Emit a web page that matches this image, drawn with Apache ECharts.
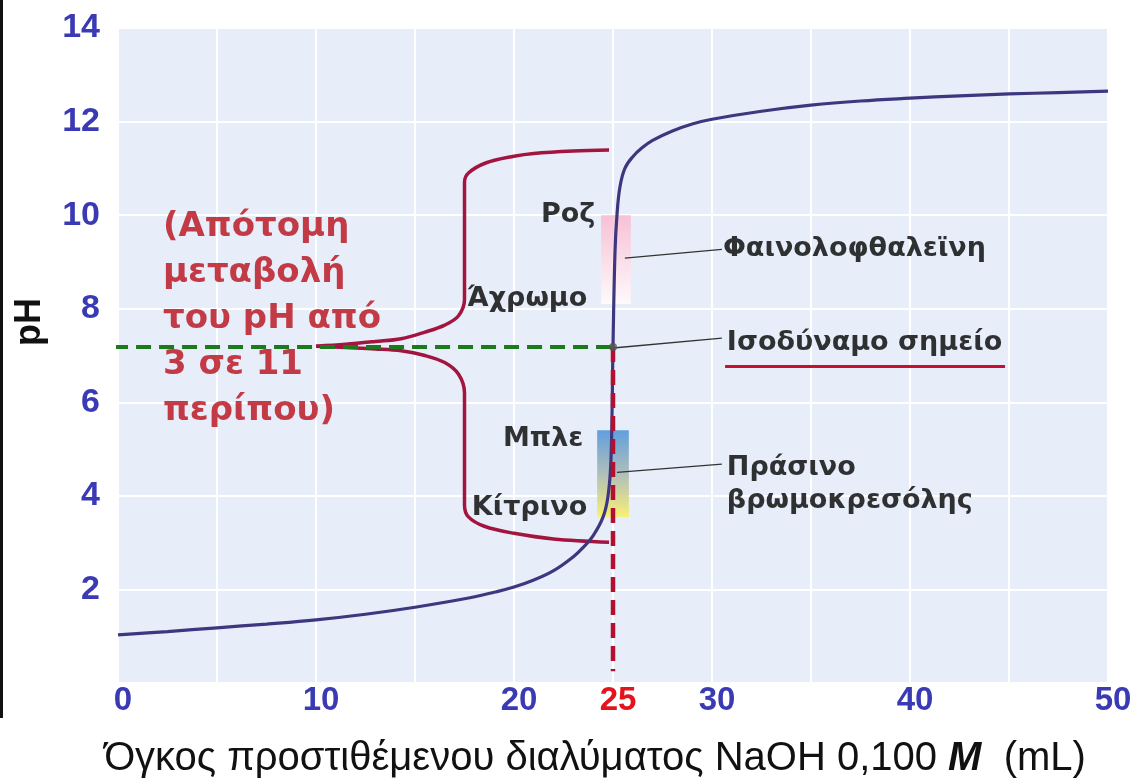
<!DOCTYPE html>
<html>
<head>
<meta charset="utf-8">
<script src="https://cdn.jsdelivr.net/npm/echarts@6/dist/echarts.min.js"></script>
<style>
  html, body { margin: 0; padding: 0; background: #ffffff; overflow: hidden; }
  #chart { width: 1132px; height: 784px; }
</style>
</head>
<body>
<div id="chart"></div>
<script>
// Titration of a strong acid with 0.100 M NaOH: volume (mL) vs pH
const volume = [0, 2.5, 5, 7.5, 10, 12.5, 15, 17.5, 19, 20, 21, 22, 23, 23.5, 24, 24.5, 24.75, 24.9,
                25, 25.1, 25.2, 25.35, 25.6, 26, 26.5, 27, 28, 29, 30, 32.5, 35, 37.5, 40, 42.5, 45, 47.5, 50];
const pH =     [1.03, 1.1, 1.18, 1.26, 1.35, 1.47, 1.62, 1.8, 1.94, 2.05, 2.2, 2.4, 2.7, 2.9, 3.15, 3.55, 4.0, 4.8,
                7.2, 9.2, 10.0, 10.6, 11.0, 11.25, 11.45, 11.6, 11.8, 11.95, 12.05, 12.22, 12.35, 12.44, 12.5, 12.55, 12.59, 12.62, 12.65];

// Brace marking the steep jump (upper and lower arms)
const braceUpperX = [10, 11.5, 13, 14.3, 15.5, 16.5, 17.2, 17.5, 17.5, 17.7, 18.6, 20, 21, 23, 24.8];
const braceUpperY = [7.2, 7.24, 7.3, 7.36, 7.5, 7.65, 7.85, 8.2, 10.7, 10.9, 11.12, 11.26, 11.32, 11.37, 11.39];
const braceLowerX = [10, 11.5, 13, 14.3, 15.5, 16.5, 17.2, 17.5, 17.5, 17.7, 18.5, 20, 22, 24.8];
const braceLowerY = [7.2, 7.17, 7.14, 7.1, 7.0, 6.85, 6.6, 6.2, 3.8, 3.55, 3.35, 3.2, 3.08, 3.01];

// Equivalence point
const equivVolume = 25;
const equivPH = 7.18;

// Indicator colour-change ranges: [volume from, volume to], [pH low, pH high]
const phenolVol = [24.4, 25.9];
const phenolPH = [8.1, 10.0];
const bromoVol = [24.2, 25.8];
const bromoPH = [3.55, 5.4];

// Tick labels
const xTickLabels = [0, 10, 20, 25, 30, 40, 50];
const yTickLabels = [2, 4, 6, 8, 10, 12, 14];

const pts = (xs, ys) => xs.map((x, i) => [x, ys[i]]);

const BLUE = '#3a3ab5';
const CURVE = '#3e377f';
const BRACE = '#a3153f';
const ANNO_FONT = 'DejaVu Sans';

function annotation(x, y, text, side, style) {
  return {
    value: [x, y],
    label: Object.assign({
      show: true,
      position: side,
      distance: 0,
      formatter: text,
      color: '#000000',
      fontFamily: ANNO_FONT,
      fontWeight: 'bold',
      fontSize: 27
    }, style || {})
  };
}

const chart = echarts.init(document.getElementById('chart'), null, { renderer: 'canvas' });

const option = {
  backgroundColor: '#ffffff',
  animation: false,
  grid: {
    left: 118, right: 24, top: 28, bottom: 101,
    outerBoundsMode: 'none',
    show: true, backgroundColor: '#e7eef9', borderWidth: 0
  },
  xAxis: {
    type: 'value', min: 0, max: 50, interval: 5,
    axisLine: { show: false }, axisTick: { show: false },
    splitLine: { show: true, lineStyle: { color: '#ffffff', width: 2 } },
    axisLabel: {
      margin: 1,
      formatter: v => v === 25 ? '{r|' + v + '}' : (xTickLabels.indexOf(v) >= 0 ? '{b|' + v + '}' : ''),
      rich: {
        b: { color: BLUE, fontFamily: 'Liberation Sans', fontWeight: 'bold', fontSize: 33, padding: [0, 0, 0, 10] },
        r: { color: '#e4141e', fontFamily: 'Liberation Sans', fontWeight: 'bold', fontSize: 33, padding: [0, 0, 0, 10] }
      }
    },
    name: 'Όγκος προστιθέμενου διαλύματος NaOH 0,100 {i|M}  (mL)',
    nameLocation: 'middle',
    nameGap: 56,
    nameTextStyle: {
      color: '#111111', fontFamily: 'Liberation Sans', fontSize: 40, padding: [0, 36, 0, 0],
      rich: { i: { fontStyle: 'italic', fontWeight: 'bold', fontFamily: 'Liberation Sans', fontSize: 40, color: '#111111' } }
    }
  },
  yAxis: {
    type: 'value', min: 0, max: 14, interval: 2,
    axisLine: { show: false }, axisTick: { show: false },
    splitLine: { show: true, lineStyle: { color: '#ffffff', width: 2 } },
    axisLabel: {
      margin: 18,
      color: BLUE, fontFamily: 'Liberation Sans', fontWeight: 'bold', fontSize: 34,
      formatter: v => yTickLabels.indexOf(v) >= 0 ? String(v) : ''
    }
  },
  graphic: [
    { type: 'rect', left: 0, top: 0, shape: { width: 3, height: 718 }, style: { fill: '#111111' } },
    { type: 'text', x: 30, y: 322, rotation: Math.PI / 2,
      style: { text: 'pH', align: 'center', verticalAlign: 'middle',
               font: 'bold 36px "Liberation Sans"', fill: '#111111' } }
  ],
  series: [
    {
      // indicator colour bands
      type: 'line', data: [], silent: true,
      markArea: {
        silent: true,
        data: [
          [{ coord: [phenolVol[0], phenolPH[1]],
             itemStyle: { color: { type: 'linear', x: 0, y: 0, x2: 0, y2: 1,
               colorStops: [{ offset: 0, color: 'rgba(248,190,212,0.95)' },
                            { offset: 1, color: 'rgba(255,250,252,0.95)' }] } } },
           { coord: [phenolVol[1], phenolPH[0]] }],
          [{ coord: [bromoVol[0], bromoPH[1]],
             itemStyle: { color: { type: 'linear', x: 0, y: 0, x2: 0, y2: 1,
               colorStops: [{ offset: 0, color: 'rgba(88,155,220,0.95)' },
                            { offset: 0.5, color: 'rgba(170,185,180,0.9)' },
                            { offset: 1, color: 'rgba(250,240,110,0.95)' }] } } },
           { coord: [bromoVol[1], bromoPH[0]] }]
        ]
      }
    },
    {
      // brace arms
      type: 'line', data: pts(braceUpperX, braceUpperY), showSymbol: false, smooth: 0.35,
      lineStyle: { color: BRACE, width: 3.5 }, silent: true
    },
    {
      type: 'line', data: pts(braceLowerX, braceLowerY), showSymbol: false, smooth: 0.35,
      lineStyle: { color: BRACE, width: 3.5 }, silent: true
    },
    {
      // titration curve
      type: 'line', data: pts(volume, pH), showSymbol: false, smooth: 0.4,
      lineStyle: { color: CURVE, width: 3.2 }, silent: true, z: 3
    },
    {
      // horizontal guide at the equivalence pH
      type: 'line', data: [[-0.25, equivPH], [equivVolume, equivPH]], showSymbol: false, clip: false,
      lineStyle: { color: '#1b7a1b', width: 4, type: [15, 8] }, silent: true, z: 4
    },
    {
      // vertical guide at the equivalence volume
      type: 'line', data: [[equivVolume, equivPH], [equivVolume, 0.25]], showSymbol: false,
      lineStyle: { color: '#b3102f', width: 4.5, type: [15, 8] }, silent: true, z: 4
    },
    {
      // leader lines to the annotations
      type: 'lines', coordinateSystem: 'cartesian2d', silent: true, z: 4,
      lineStyle: { color: '#333333', width: 1.3, opacity: 1 },
      data: [
        { coords: [[25.6, 9.08], [30.5, 9.27]] },
        { coords: [[25.0, 7.16], [30.5, 7.37]] },
        { coords: [[25.2, 4.5], [30.5, 4.68]] }
      ]
    },
    {
      // underline of the equivalence label
      type: 'lines', coordinateSystem: 'cartesian2d', silent: true, z: 4,
      lineStyle: { color: '#c8102e', width: 3, opacity: 1 },
      data: [{ coords: [[30.66, 6.77], [44.8, 6.77]] }]
    },
    {
      // equivalence point marker
      type: 'scatter', data: [[equivVolume, equivPH]], symbolSize: 8, silent: true, z: 5,
      itemStyle: { color: '#555555' }
    },
    {
      // text annotations
      type: 'scatter', symbolSize: 0, silent: true, z: 6,
      data: [
        annotation(24.1, 10.0, 'Ροζ', 'left'),
        annotation(23.7, 8.2, 'Άχρωμο', 'left'),
        annotation(23.5, 5.22, 'Μπλε', 'left'),
        annotation(23.7, 3.74, 'Κίτρινο', 'left'),
        annotation(30.55, 9.27, 'Φαινολοφθαλεϊνη', 'right'),
        annotation(30.75, 7.27, 'Ισοδύναμο σημείο', 'right'),
        annotation(30.75, 4.25, 'Πράσινο\nβρωμοκρεσόλης', 'right', { lineHeight: 33 }),
        annotation(2.27, 7.77, '(Απότομη\nμεταβολή\nτου pH από\n3 σε 11\nπερίπου)', 'right',
          { color: '#b80c18', fontSize: 34, lineHeight: 46 })
      ]
    }
  ]
};

chart.setOption(option);
</script>
</body>
</html>
